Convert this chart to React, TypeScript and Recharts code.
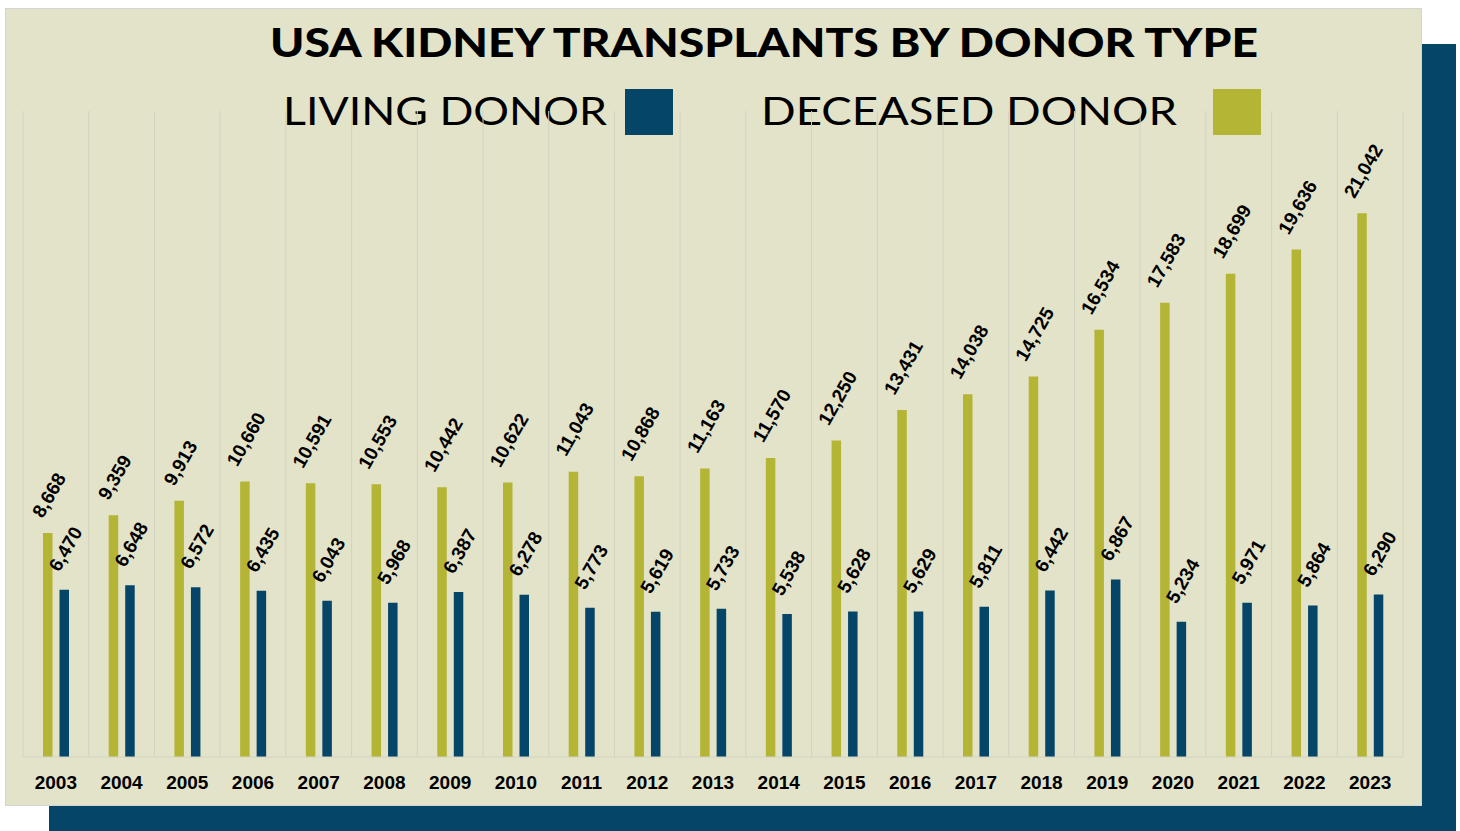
import React from "react";
import { BarChart, Bar, XAxis, YAxis, CartesianGrid, LabelList } from "recharts";

const years = ["2003","2004","2005","2006","2007","2008","2009","2010","2011","2012","2013","2014","2015","2016","2017","2018","2019","2020","2021","2022","2023"];
const deceased = [8668,9359,9913,10660,10591,10553,10442,10622,11043,10868,11163,11570,12250,13431,14038,14725,16534,17583,18699,19636,21042];
const living = [6470,6648,6572,6435,6043,5968,6387,6278,5773,5619,5733,5538,5628,5629,5811,6442,6867,5234,5971,5864,6290];

const TITLE = "USA KIDNEY TRANSPLANTS BY DONOR TYPE";
const LIVING_NAME = "LIVING DONOR";
const DECEASED_NAME = "DECEASED DONOR";

const BG = "#e3e3c9";
const OLIVE = "#b4b535";
const BLUE = "#054568";
const GRID = "#d2d2c2";

const data = years.map((y, i) => ({ year: y, deceased: deceased[i], living: living[i] }));

const fmt = (v: number) => Number(v).toLocaleString("en-US");

const makeLabel = (gap: number) => (props: any) => {
  const { x, y, width, value } = props;
  const cx = Number(x) + Number(width) / 2 + 1;
  const txt = fmt(value);
  const fs = 19;
  const digits = txt.replace(/,/g, "").length;
  const commas = txt.length - digits;
  const L = fs * (0.556 * digits + 0.278 * commas);
  const h = fs * 0.716;
  const yExt = L * 0.866 + h * 0.5;
  const cy = Number(y) - gap - yExt / 2;
  return (
    <text
      x={cx}
      y={cy}
      dy="0.36em"
      textAnchor="middle"
      transform={`rotate(-60 ${cx} ${cy})`}
      fontFamily="'Liberation Sans', Arial, sans-serif"
      fontWeight={700}
      fontSize={fs}
      fill="#000"
    >
      {txt}
    </text>
  );
};

const YearTick = (props: any) => {
  const { x, y, payload } = props;
  return (
    <text
      x={x}
      y={y}
      dy={32}
      textAnchor="middle"
      fontFamily="'Liberation Sans', Arial, sans-serif"
      fontWeight={700}
      fontSize={19}
      fill="#000"
    >
      {payload.value}
    </text>
  );
};

const gridGen = (args: any) => {
  const off = args.offset;
  const n = years.length;
  const pts: number[] = [];
  for (let i = 0; i <= n; i++) pts.push(off.left + (i * off.width) / n);
  return pts;
};

export default function App() {
  return (
    <div style={{ position: "absolute", left: 0, top: 0, width: 1460, height: 831, overflow: "hidden", background: "#fff" }}>
      <div style={{ position: "absolute", left: 49, top: 44, width: 1407, height: 787, background: BLUE }} />
      <div style={{ position: "absolute", left: 5, top: 8, width: 1415, height: 796, background: BG, border: "1px solid #d4d4d0" }} />
      <svg width={1460} height={831} style={{ position: "absolute", left: 0, top: 0 }}>
        <text x={270} y={57} textLength={988} lengthAdjust="spacingAndGlyphs" fontFamily="Lato, 'DejaVu Sans', sans-serif" fontWeight={900} fontSize={39} fill="#000">
          {TITLE}
        </text>
        <text x={283} y={125} textLength={324} lengthAdjust="spacingAndGlyphs" fontFamily="Lato, 'Open Sans', sans-serif" fontWeight={400} fontSize={39} fill="#000">
          {LIVING_NAME}
        </text>
        <rect x={625} y={89} width={48} height={46} fill={BLUE} />
        <text x={761} y={125} textLength={416} lengthAdjust="spacingAndGlyphs" fontFamily="Lato, 'Open Sans', sans-serif" fontWeight={400} fontSize={39} fill="#000">
          {DECEASED_NAME}
        </text>
        <rect x={1213} y={89} width={48} height={46} fill={OLIVE} />
      </svg>
      <div style={{ position: "absolute", left: 0, top: 0 }}>
        <BarChart
          width={1460}
          height={831}
          data={data}
          margin={{ top: 111, right: 57, bottom: 44, left: 23 }}
          barGap={7}
          barSize={9.5}
        >
          <CartesianGrid horizontal={false} vertical stroke={GRID} verticalCoordinatesGenerator={gridGen} />
          <XAxis dataKey="year" height={30} axisLine={{ stroke: GRID }} tickLine={false} tickSize={0} tickMargin={0} tick={<YearTick />} interval={0} />
          <YAxis hide domain={[0, 25000]} />
          <Bar dataKey="deceased" fill={OLIVE} isAnimationActive={false}>
            <LabelList dataKey="deceased" content={makeLabel(14)} />
          </Bar>
          <Bar dataKey="living" fill={BLUE} isAnimationActive={false}>
            <LabelList dataKey="living" content={makeLabel(17)} />
          </Bar>
        </BarChart>
      </div>
    </div>
  );
}
